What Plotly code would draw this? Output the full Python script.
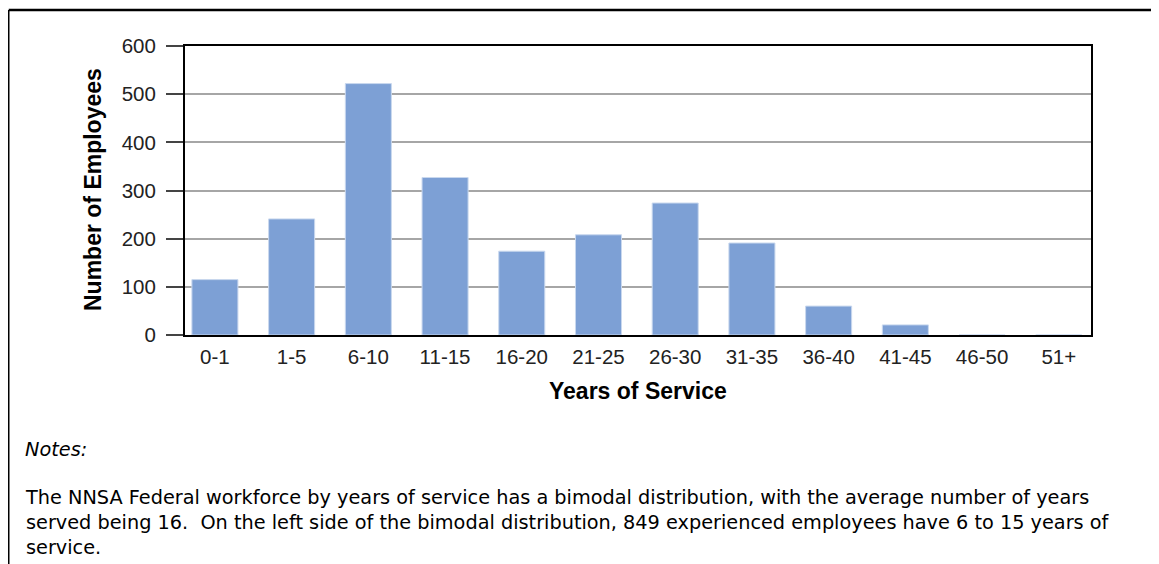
import plotly.graph_objects as go

categories = ["0-1", "1-5", "6-10", "11-15", "16-20", "21-25", "26-30",
              "31-35", "36-40", "41-45", "46-50", "51+"]
employees = [115, 241, 522, 327, 174, 208, 274, 191, 60, 21, 0, 0]
y_ticks = [0, 100, 200, 300, 400, 500, 600]

notes_title = "Notes:"
notes_lines = [
    "The NNSA Federal workforce by years of service has a bimodal distribution, with the average number of years",
    "served being 16.  On the left side of the bimodal distribution, 849 experienced employees have 6 to 15 years of",
    "service.",
]

# the page adds an 8px body margin, so the figure is 8px smaller than the window
W, H = 1151, 556
L, R, T, B = 177, 1083, 38, 327  # plot area in figure pixels


def px(x):
    return (x - L) / (R - L)


def py(y):
    return (B - y) / (B - T)


fig = go.Figure()
fig.add_trace(go.Bar(
    x=categories, y=employees,
    marker=dict(color="#7da0d5", line=dict(color="#c9d8ee", width=1)),
    showlegend=False,
))

axis_font = dict(family="Arial", size=20.5, color="#222222")

fig.update_layout(
    width=W, height=H,
    margin=dict(l=L, r=W - R, t=T, b=H - B),
    paper_bgcolor="white", plot_bgcolor="white",
    bargap=0.4,
    font=axis_font,
    xaxis=dict(
        range=[-0.39, 11.42], showgrid=False, ticks="", tickfont=axis_font,
        showline=True, linecolor="black", linewidth=2, mirror=True,
        ticklabelstandoff=2,
    ),
    yaxis=dict(
        range=[0, 600], tickvals=y_ticks, showgrid=True, gridcolor="#a6a6a6", gridwidth=2,
        ticks="outside", ticklen=17, tickcolor="#444444", tickwidth=1.5,
        showline=True, linecolor="black", linewidth=2, mirror=True,
        tickfont=axis_font, ticklabelstandoff=6, zeroline=False,
    ),
)

title_font = dict(family="Arial", size=23, color="black")
fig.add_annotation(text="<b>Number of Employees</b>", textangle=-90,
                   xref="paper", yref="paper", x=px(85), y=py(182),
                   xanchor="center", yanchor="middle",
                   showarrow=False, font=title_font)
fig.add_annotation(text="<b>Years of Service</b>",
                   xref="paper", yref="paper", x=px(630), y=py(383),
                   xanchor="center", yanchor="middle",
                   showarrow=False, font=title_font)

notes_font = dict(family="DejaVu Sans", size=19.3, color="black")
fig.add_annotation(text="<i>" + notes_title + "</i>", xref="paper", yref="paper",
                   x=px(15), y=py(441), xanchor="left", yanchor="middle",
                   showarrow=False, font=notes_font)
fig.add_annotation(text="<br>".join(notes_lines), xref="paper", yref="paper",
                   x=px(15), y=py(514), xanchor="left", yanchor="middle", align="left",
                   showarrow=False, font=notes_font)

# outer frame (top and left edges)
fig.add_shape(type="line", xref="paper", yref="paper",
              x0=px(0.75), x1=px(W + 5), y0=py(2), y1=py(2),
              line=dict(color="black", width=2.5))
fig.add_shape(type="line", xref="paper", yref="paper",
              x0=px(0.75), x1=px(0.75), y0=py(2), y1=py(H + 5),
              line=dict(color="black", width=1.5))

fig.write_html("out.html")
